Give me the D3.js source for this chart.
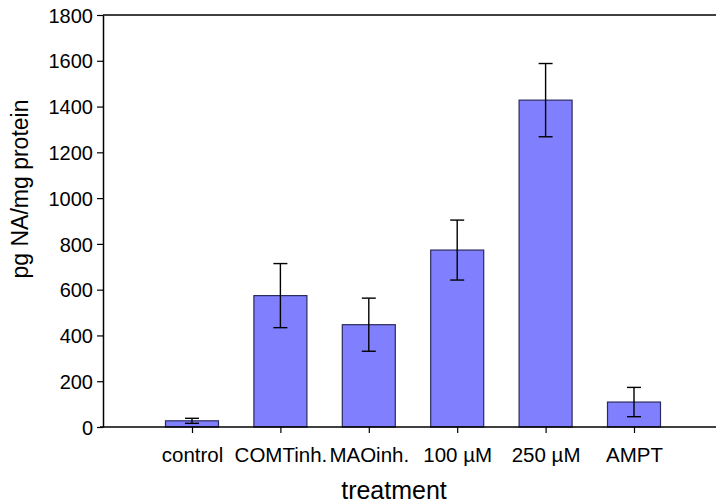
<!DOCTYPE html>
<html>
<head>
<meta charset="utf-8">
<script src="https://cdn.jsdelivr.net/npm/d3@7"></script>
<style>
  body { margin: 0; background: #fff; }
  svg text { font-family: "Liberation Sans", Arial, sans-serif; fill: #000; }
</style>
</head>
<body>
<div id="chart"></div>
<script>
var treatments = ["control", "COMTinh.", "MAOinh.", "100 \u00b5M", "250 \u00b5M", "AMPT"];
var meanValues = [27, 574, 447, 773, 1428, 109];
var errorValues = [11, 140, 116, 131, 160, 64];
var yTicks = [0, 200, 400, 600, 800, 1000, 1200, 1400, 1600, 1800];

const width = 716, height = 504;
const plotLeft = 103, plotTop = 15, plotBottom = 427;

var svg = d3.select("#chart").append("svg")
    .attr("width", width)
    .attr("height", height);

var y = d3.scaleLinear()
    .domain([0, 1800])
    .range([plotBottom, plotTop]);

// categories sit one step apart, first one a full step right of the axis
var x = d3.scalePoint()
    .domain(treatments)
    .range([192, 634]);
const barW = 53;

// frame: top line
svg.append("line")
    .attr("x1", plotLeft).attr("x2", width)
    .attr("y1", plotTop).attr("y2", plotTop)
    .attr("stroke", "#000").attr("stroke-width", 1.5);

// bars
svg.selectAll(".bar")
    .data(meanValues)
    .enter().append("rect")
    .attr("class", "bar")
    .attr("x", function (d, i) { return x(treatments[i]) - barW / 2; })
    .attr("y", function (d) { return y(d); })
    .attr("width", barW)
    .attr("height", function (d) { return y(0) - y(d); })
    .attr("fill", "#8080ff")
    .attr("stroke", "#2a2a5e")
    .attr("stroke-width", 1.2);

// error bars
var err = svg.selectAll(".err")
    .data(meanValues)
    .enter().append("g")
    .attr("class", "err")
    .attr("stroke", "#000")
    .attr("stroke-width", 1.4);

err.append("line")
    .attr("x1", function (d, i) { return x(treatments[i]); })
    .attr("x2", function (d, i) { return x(treatments[i]); })
    .attr("y1", function (d, i) { return y(d + errorValues[i]); })
    .attr("y2", function (d, i) { return y(d - errorValues[i]); });
[1, -1].forEach(function (s) {
    err.append("line")
        .attr("x1", function (d, i) { return x(treatments[i]) - 7; })
        .attr("x2", function (d, i) { return x(treatments[i]) + 7; })
        .attr("y1", function (d, i) { return y(d + s * errorValues[i]); })
        .attr("y2", function (d, i) { return y(d + s * errorValues[i]); });
});

// y axis
var yAxis = svg.append("g")
    .attr("transform", "translate(" + plotLeft + ",0)")
    .call(d3.axisLeft(y).tickValues(yTicks).tickFormat(d3.format("d"))
        .tickSize(6).tickPadding(4).tickSizeOuter(0));
yAxis.select(".domain").attr("stroke-width", 1.5);
yAxis.selectAll(".tick line").attr("stroke-width", 1.2);
yAxis.selectAll("text").style("font-size", "20px").attr("dy", "0.36em");

// x axis
var xAxis = svg.append("g")
    .attr("transform", "translate(0," + plotBottom + ")")
    .call(d3.axisBottom(x).tickSize(6).tickPadding(14).tickSizeOuter(0));
xAxis.select(".domain").attr("d", "M" + (plotLeft - 3) + ",0H" + width).attr("stroke-width", 1.5);
xAxis.selectAll(".tick line").attr("stroke-width", 1.2);
xAxis.selectAll("text").style("font-size", "20.5px");

// axis titles
svg.append("text")
    .attr("transform", "translate(28,189) rotate(-90)")
    .attr("text-anchor", "middle")
    .style("font-size", "23px")
    .text("pg NA/mg protein");

svg.append("text")
    .attr("x", 394).attr("y", 499)
    .attr("text-anchor", "middle")
    .style("font-size", "25px")
    .text("treatment");
</script>
</body>
</html>
